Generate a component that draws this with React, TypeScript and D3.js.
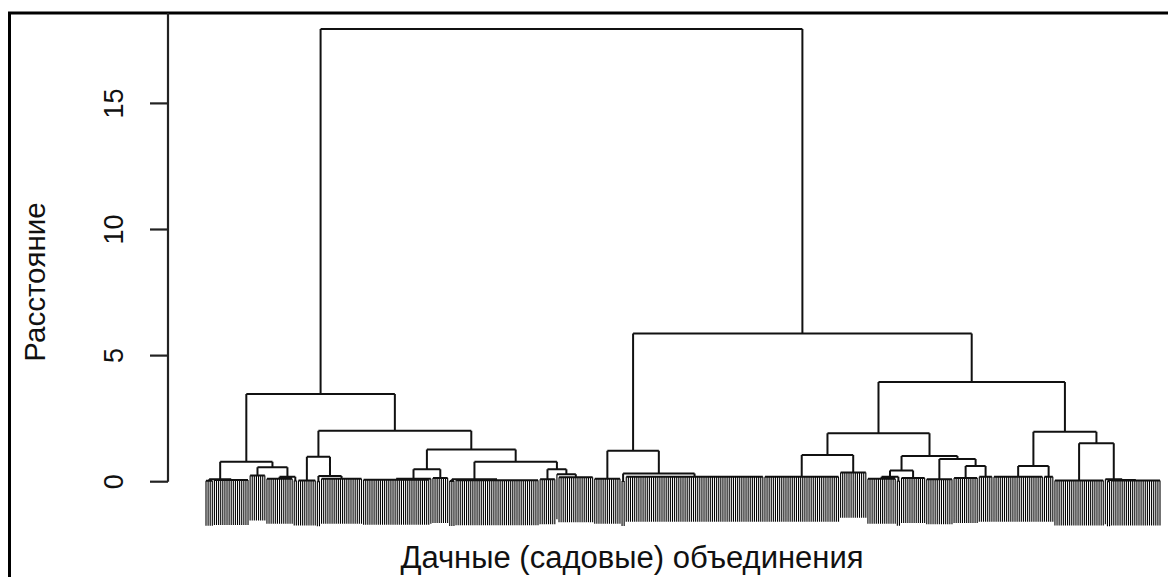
import React, { useLayoutEffect } from "react";
import * as d3 from "d3";

// Leaf bundles, left to right: number of leaves and the height at which they join
const bundleSizes = [4, 17, 8, 13, 2, 9, 2, 20, 32, 1, 8, 3, 40, 8, 1, 17, 13, 2, 66, 36, 13, 14, 2, 12, 13, 12, 7, 24, 5, 24, 1, 2, 24];
const bundleHeights = [0.04, 0.07, 0.25, 0.12, 0.05, 0.05, 0.02, 0.12, 0.08, 0, 0.15, 0.03, 0.06, 0.1, 0, 0.18, 0.12, 0.03, 0.2, 0.2, 0.36, 0.12, 0.04, 0.15, 0.1, 0.15, 0.2, 0.2, 0.2, 0.05, 0, 0.02, 0.05];
// hclust-style merge table: negative = bundle (1-based), positive = earlier merge row (1-based)
const merges: [number, number][] = [
  [-1, -2], [-4, -5], [-3, 2], [1, 3], [-7, -8], [-6, 5], [-9, -10], [7, -11], [-12, -13], [-15, -16],
  [-14, 10], [9, 11], [8, 12], [6, 13], [4, 14], [-18, -19], [-17, 16], [-20, -21], [-22, -23], [19, -24],
  [-26, -27], [-25, 21], [20, 22], [18, 23], [-28, -29], [-32, -33], [-31, 26], [-30, 27], [25, 28], [24, 29],
  [17, 30], [15, 31],
];
const mergeHeights = [0.1, 0.2, 0.57, 0.79, 0.23, 0.99, 0.12, 0.49, 0.1, 0.3, 0.49, 0.79, 1.28, 2.02, 3.48, 0.33, 1.23, 1.06, 0.2, 0.44, 0.62, 0.9, 1.02, 1.92, 0.62, 0.07, 0.1, 1.52, 1.98, 3.95, 5.88, 17.95];
const yTicks = [0, 5, 10, 15];
const yTitle = "Расстояние";
const xTitle = "Дачные (садовые) объединения";

const W = 1168;
const H = 577;
const FONT = "'Liberation Sans', Arial, Helvetica, sans-serif";

export default function App() {
  useLayoutEffect(() => {
    document.body.style.margin = "0";
  }, []);

  const N = d3.sum(bundleSizes);
  const starts: number[] = [];
  let acc = 0;
  bundleSizes.forEach((s) => {
    starts.push(acc);
    acc += s;
  });
  const x = d3.scaleLinear().domain([0, N - 1]).range([206, 1160]);
  const y = d3.scaleLinear().domain([0, 15]).range([481.7, 103.4]);
  const hang = 0.1 * ((d3.max(mergeHeights) as number) - (d3.min(mergeHeights) as number));

  const bundleCenter = (b: number) => starts[b] + (bundleSizes[b] - 1) / 2;
  const nodeX: number[] = [];
  const posOf = (ref: number) => (ref < 0 ? bundleCenter(-ref - 1) : nodeX[ref - 1]);
  merges.forEach(([a, b], i) => {
    nodeX[i] = (posOf(a) + posOf(b)) / 2;
  });

  const tree = d3.path();
  const leaves = d3.path();

  const drawChild = (ref: number, parentH: number) => {
    const cx = x(posOf(ref));
    if (ref > 0) {
      const h = mergeHeights[ref - 1];
      tree.moveTo(cx, y(parentH));
      tree.lineTo(cx, y(h));
      return;
    }
    const b = -ref - 1;
    const size = bundleSizes[b];
    if (size === 1) {
      leaves.moveTo(cx, y(parentH));
      leaves.lineTo(cx, y(parentH - hang));
      return;
    }
    const bh = bundleHeights[b];
    tree.moveTo(cx, y(parentH));
    tree.lineTo(cx, y(bh));
    const x0 = x(starts[b]);
    const x1 = x(starts[b] + size - 1);
    tree.moveTo(x0, y(bh));
    tree.lineTo(x1, y(bh));
    for (let k = 0; k < size; k++) {
      const lx = x(starts[b] + k);
      leaves.moveTo(lx, y(bh));
      leaves.lineTo(lx, y(bh - hang));
    }
  };

  merges.forEach(([a, b], i) => {
    const h = mergeHeights[i];
    const xa = x(posOf(a));
    const xb = x(posOf(b));
    tree.moveTo(xa, y(h));
    tree.lineTo(xb, y(h));
    drawChild(a, h);
    drawChild(b, h);
  });

  return (
    <svg width={W} height={H} style={{ display: "block", background: "#fff" }} fontFamily={FONT}>
      {/* frame */}
      <line x1={9.5} y1={12} x2={9.5} y2={H} stroke="#000" strokeWidth={3} />
      <line x1={8} y1={13} x2={W} y2={13} stroke="#000" strokeWidth={3} />
      {/* y axis */}
      <line x1={168} y1={13} x2={168} y2={y(0)} stroke="#222" strokeWidth={2.2} />
      {yTicks.map((t) => (
        <g key={t}>
          <line x1={150} y1={y(t)} x2={168} y2={y(t)} stroke="#222" strokeWidth={2.2} />
          <text
            transform={`translate(123, ${y(t)}) rotate(-90)`}
            textAnchor="middle"
            fontSize={27}
            fill="#111"
          >
            {t}
          </text>
        </g>
      ))}
      <text transform={`translate(45, 282) rotate(-90)`} textAnchor="middle" fontSize={29.5} fill="#111">
        {yTitle}
      </text>
      <text x={632} y={568} textAnchor="middle" fontSize={31} fill="#111">
        {xTitle}
      </text>
      <path d={leaves.toString()} fill="none" stroke="#000" strokeWidth={1.1} />
      <path d={tree.toString()} fill="none" stroke="#111" strokeWidth={2} />
    </svg>
  );
}
